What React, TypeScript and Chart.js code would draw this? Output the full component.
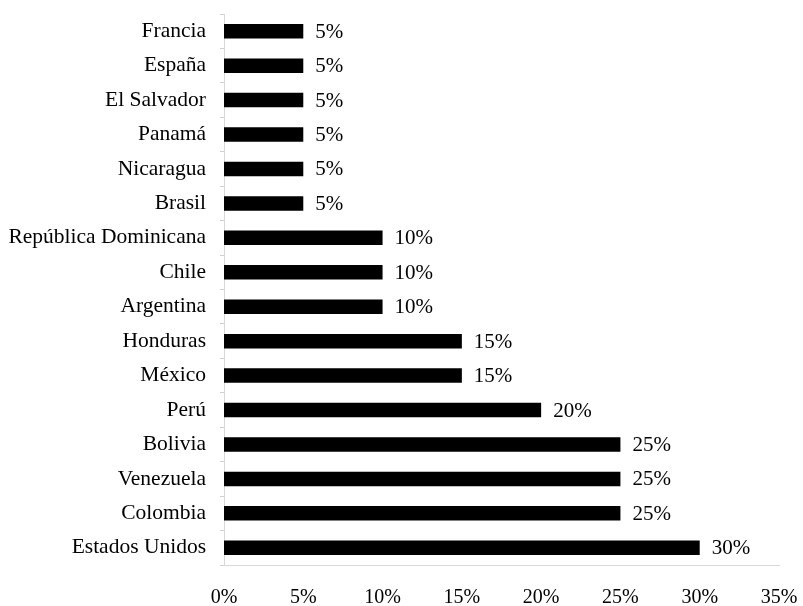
import React, { useEffect, useRef } from "react";
import { Chart, registerables } from "chart.js";

Chart.register(...registerables);

const countries = [
  "Francia",
  "España",
  "El Salvador",
  "Panamá",
  "Nicaragua",
  "Brasil",
  "República Dominicana",
  "Chile",
  "Argentina",
  "Honduras",
  "México",
  "Perú",
  "Bolivia",
  "Venezuela",
  "Colombia",
  "Estados Unidos",
];

const percentages = [5, 5, 5, 5, 5, 5, 10, 10, 10, 15, 15, 20, 25, 25, 25, 30];

const xTicks = [0, 5, 10, 15, 20, 25, 30, 35];

const FONT = "'Liberation Serif', 'Times New Roman', serif";

const valueLabels = {
  id: "valueLabels",
  afterDatasetsDraw(chart: any) {
    const ctx = chart.ctx;
    const meta = chart.getDatasetMeta(0);
    ctx.save();
    ctx.fillStyle = "#000";
    ctx.font = `21px ${FONT}`;
    ctx.textAlign = "left";
    ctx.textBaseline = "middle";
    meta.data.forEach((bar: any, i: number) => {
      ctx.fillText(`${percentages[i]}%`, bar.x + 12, bar.y + 1);
    });
    ctx.restore();
  },
};

export default function App() {
  const ref = useRef<HTMLCanvasElement | null>(null);

  useEffect(() => {
    document.body.style.margin = "0";
    if (!ref.current) return;
    const chart = new Chart(ref.current, {
      type: "bar",
      data: {
        labels: countries,
        datasets: [
          {
            data: percentages,
            backgroundColor: "#000",
            borderWidth: 0,
            barPercentage: 0.42,
            categoryPercentage: 1,
          },
        ],
      },
      options: {
        indexAxis: "y",
        animation: false,
        responsive: true,
        maintainAspectRatio: false,
        layout: { padding: { top: 14, right: 24, left: 0, bottom: 0 } },
        plugins: {
          legend: { display: false },
          tooltip: { enabled: false },
        },
        scales: {
          x: {
            type: "linear",
            min: 0,
            max: 35,
            afterBuildTicks: (scale: any) => {
              scale.ticks = xTicks.map((v) => ({ value: v }));
            },
            afterFit: (scale: any) => {
              scale.height = 41;
              scale.paddingLeft = 0;
              scale.paddingRight = 0;
            },
            grid: { display: false, drawTicks: false },
            border: { display: true, color: "#d8d8d8", width: 1, dash: [2, 2] },
            ticks: {
              padding: 21,
              color: "#000",
              font: { family: FONT, size: 20 },
              callback: (v: any) => `${v}%`,
            },
          },
          y: {
            type: "category",
            afterFit: (scale: any) => {
              scale.width = 224;
              scale.paddingTop = 0;
              scale.paddingBottom = 0;
            },
            grid: {
              display: true,
              drawOnChartArea: false,
              drawTicks: true,
              tickLength: 4,
              offset: true,
              color: "#d0d0d0",
            },
            border: { display: true, color: "#d8d8d8", width: 1 },
            ticks: {
              padding: 14,
              color: "#000",
              font: { family: FONT, size: 21.5 },
            },
          },
        },
      },
      plugins: [valueLabels],
    });
    return () => chart.destroy();
  }, []);

  return (
    <div style={{ position: "absolute", left: 0, top: 0, width: 803, height: 606 }}>
      <canvas ref={ref} />
    </div>
  );
}
